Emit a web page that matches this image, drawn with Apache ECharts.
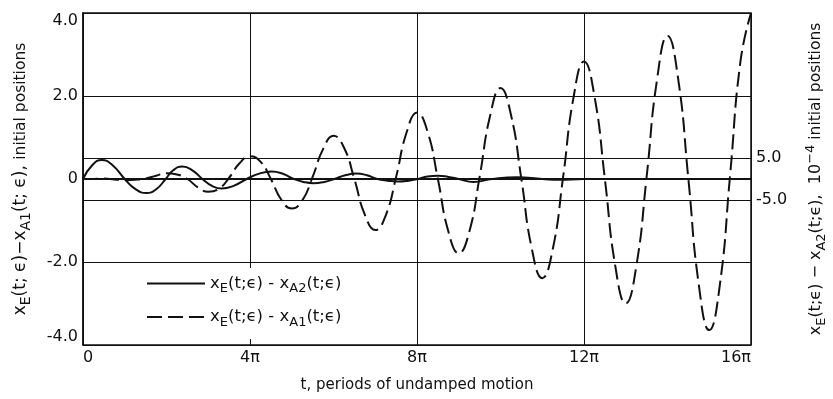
<!DOCTYPE html>
<html>
<head>
<meta charset="utf-8">
<script src="https://cdn.jsdelivr.net/npm/echarts@6/dist/echarts.min.js"></script>
<style>
html,body{margin:0;padding:0;background:#fff;}
#c{width:833px;height:399px;}
</style>
</head>
<body>
<div id="c"></div>
<script>
// t in units of pi
var xTickLabels = {0: '0', 4: '4π', 8: '8π', 12: '12π', 16: '16π'};
var leftTickLabels = {'-4': '-4.0', '-2': '-2.0', '0': '0', '2': '2.0', '4': '4.0'};
var rightTickLabels = {'5': '5.0', '-5': '-5.0'};

// x_E - x_A1 (left axis, initial positions)
var tA1 = [0, 0.25, 0.5, 0.75, 1.0, 1.25, 1.5, 1.75, 2.0, 2.25, 2.5, 2.75, 3.0, 3.25, 3.5, 3.75, 4.0, 4.25, 4.5, 4.75,
           5.0, 5.25, 5.5, 5.75, 6.0, 6.25, 6.5, 6.75, 7.0, 7.25, 7.5, 7.75, 8.0, 8.25, 8.5, 8.75, 9.0, 9.25, 9.5, 9.75,
           10.0, 10.25, 10.5, 10.75, 11.0, 11.25, 11.5, 11.75, 12.0, 12.25, 12.5, 12.75, 13.0, 13.25, 13.5, 13.75,
           14.0, 14.25, 14.5, 14.75, 15.0, 15.25, 15.5, 15.75, 16.0];
var vA1 = [0, 0.0, 0.01, -0.01, -0.03, -0.02, 0.01, 0.08, 0.14, 0.11, 0.0, -0.2, -0.31, -0.24, 0.03, 0.38, 0.55, 0.42, 0.0, -0.5,
           -0.71, -0.52, 0.05, 0.72, 1.04, 0.76, 0.0, -0.86, -1.23, -0.88, 0.05, 1.12, 1.60, 1.15, 0.0, -1.26, -1.79, -1.28, 0.05, 1.52,
           2.19, 1.55, 0.0, -1.68, -2.39, -1.70, 0.05, 1.97, 2.83, 2.0, 0.0, -2.1, -3.0, -2.12, 0.05, 2.4,
           3.45, 2.45, 0.0, -2.55, -3.64, -2.58, 0.1, 2.85, 4.0];

// x_E - x_A2 (right axis, 10^-4 initial positions)
var tA2 = [0, 0.22, 0.45, 0.72, 1.0, 1.25, 1.52, 1.76, 1.98, 2.16, 2.38, 2.62, 2.86, 3.08, 3.32, 3.62, 3.92, 4.22, 4.52, 4.8,
           5.05, 5.28, 5.52, 5.78, 6.02, 6.28, 6.55, 6.8, 7.05, 7.3, 7.55, 7.8, 8.02, 8.25, 8.5, 8.75, 9.0, 9.35, 9.8, 10.4, 11.0, 11.4, 12.0, 16.0];
var vA2 = [0, 3.3, 4.6, 3.2, 0, -2.4, -3.4, -2.4, 0, 2.1, 3.0, 2.1, 0, -1.6, -2.3, -1.6, 0, 1.3, 1.8, 1.2,
           0, -0.7, -1.0, -0.7, 0, 0.9, 1.3, 0.9, 0, -0.4, -0.6, -0.4, 0, 0.6, 0.8, 0.5, 0, -0.7, 0, 0.4, 0, -0.2, 0, 0];

var FONT = 'DejaVu Sans';
var black = '#111';
function pairs(t, v) { return t.map(function (x, i) { return [x, v[i]]; }); }
function richSet(size, fsize, subSize) {
  return {
    n: {fontFamily: FONT, fontSize: size, color: black},
    f: {fontFamily: FONT, fontSize: fsize, color: black},
    s: {fontFamily: FONT, fontSize: subSize, color: black, padding: [11, 0, 0, 0]},
    p: {fontFamily: FONT, fontSize: subSize, color: black, padding: [0, 0, 11, 0]}
  };
}

var chart = echarts.init(document.getElementById('c'), null, {renderer: 'canvas'});
chart.setOption({
  backgroundColor: '#fff',
  animation: false,
  grid: {left: 83, right: 82, top: 13, bottom: 54, show: true, borderColor: black, borderWidth: 1.5,
         backgroundColor: 'transparent', containLabel: false, outerBoundsMode: 'none'},
  xAxis: {
    type: 'value', min: 0, max: 16, interval: 4,
    axisLine: {show: true, lineStyle: {color: black, width: 1.5}},
    axisTick: {show: false},
    splitLine: {show: true, lineStyle: {color: black, width: 1}},
    axisLabel: {
      color: black, fontFamily: FONT, fontSize: 16, margin: 5,
      alignMinLabel: 'left', alignMaxLabel: 'right',
      formatter: function (v) { return xTickLabels[v] || ''; }
    },
    name: 't, periods of undamped motion', nameLocation: 'middle', nameGap: 33,
    nameTextStyle: {color: black, fontFamily: FONT, fontSize: 15}
  },
  yAxis: [{
    type: 'value', min: -4, max: 4, interval: 2,
    axisLine: {show: true, lineStyle: {color: black, width: 1.5}},
    axisTick: {show: false},
    splitLine: {show: true, lineStyle: {color: black, width: 1}},
    axisLabel: {color: black, fontFamily: FONT, fontSize: 16, margin: 5,
      verticalAlignMaxLabel: 'top', verticalAlignMinLabel: 'bottom',
      formatter: function (v) { return leftTickLabels[String(v)] || ''; }},
    name: '{f|x}{s|E}{f|(t; ϵ)−x}{s|A1}{f|(t; ϵ), }{n|initial positions}',
    nameLocation: 'middle', nameRotate: 90, nameGap: 50,
    nameTextStyle: {rich: richSet(15.5, 17, 14)}
  }, {
    type: 'value', min: -40, max: 40, interval: 5, position: 'right',
    axisLine: {show: false}, axisTick: {show: false}, splitLine: {show: false},
    axisLabel: {color: black, fontFamily: FONT, fontSize: 16, margin: 5,
      formatter: function (v) { return rightTickLabels[String(v)] || ''; }},
    name: '{f|x}{s|E}{f|(t;ϵ) − x}{s|A2}{f|(t;ϵ),  10}{p|−4}{n| initial positions}',
    nameLocation: 'middle', nameRotate: 90, nameGap: 53,
    nameTextStyle: {rich: richSet(15.5, 16, 13)}
  }],
  legend: {
    left: 138, top: 268, orient: 'vertical',
    padding: [7, 10, 10, 8], itemGap: 13, itemWidth: 58, itemHeight: 12,
    backgroundColor: '#fff',
    itemStyle: {opacity: 0},
    data: ['A2', 'A1'],
    formatter: function (name) {
      return name === 'A2' ? '{f|x}{s|E}{f|(t;ϵ) - x}{s|A2}{f|(t;ϵ)}' : '{f|x}{s|E}{f|(t;ϵ) - x}{s|A1}{f|(t;ϵ)}';
    },
    textStyle: {rich: richSet(16, 16.5, 13)}
  },
  series: [{
    name: 'A1', type: 'line', yAxisIndex: 0, smooth: 0.5, symbol: 'none', showSymbol: false,
    data: pairs(tA1, vA1), clip: true,
    lineStyle: {color: black, width: 2, type: [15, 6]}, itemStyle: {color: black},
    z: 3,
    markLine: {
      silent: true, symbol: ['none', 'none'], label: {show: false},
      lineStyle: {color: black, type: 'solid', width: 1},
      data: [{yAxis: 0.5}, {yAxis: -0.5}, {yAxis: 0, lineStyle: {width: 2}}]
    }
  }, {
    name: 'A2', type: 'line', yAxisIndex: 1, smooth: 0.5, symbol: 'none', showSymbol: false,
    data: pairs(tA2, vA2), clip: true,
    lineStyle: {color: black, width: 2, type: 'solid'}, itemStyle: {color: black},
    z: 4
  }]
});
</script>
</body>
</html>
